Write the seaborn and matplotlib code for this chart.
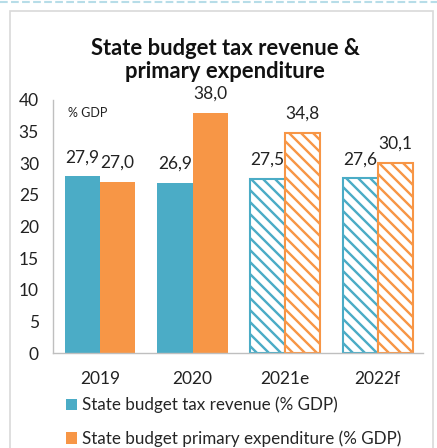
import matplotlib
matplotlib.use("Agg")
import matplotlib.pyplot as plt
import matplotlib.patches as mpatches
import seaborn as sns
import pandas as pd

years = ["2019", "2020", "2021e", "2022f"]
tax_revenue = [27.9, 26.9, 27.5, 27.6]
primary_expenditure = [27.0, 38.0, 34.8, 30.1]
series_names = ["State budget tax revenue (% GDP)",
                "State budget primary expenditure (% GDP)"]
forecast_years = ["2021e", "2022f"]
colors = ["#4BACC6", "#F79646"]

DPI = 72
k = 100 / DPI  # keep pixel sizes as designed at 100 dpi

sns.set_theme(style="white")
plt.rcParams['font.family'] = ['Lato', 'DejaVu Sans']
plt.rcParams['hatch.linewidth'] = 2.4

df = pd.DataFrame({
    "year": years * 2,
    "value": tax_revenue + primary_expenditure,
    "series": [series_names[0]] * len(years) + [series_names[1]] * len(years),
})

fig = plt.figure(figsize=(437 / DPI, 448 / DPI), dpi=DPI)
ax = fig.add_axes([0.121, 0.212, 0.847, 0.565])

sns.barplot(data=df, x="year", y="value", hue="series", palette=colors,
            width=0.76, saturation=1, ax=ax, legend=False, errorbar=None)

for ci, cont in enumerate(ax.containers):
    col = colors[ci]
    for yi, patch in enumerate(cont.patches):
        patch.set_linewidth(0)
        if years[yi] in forecast_years:
            patch.set_facecolor("white")
            patch.set_edgecolor(col)
            patch.set_hatch("\\" * 2)
            patch.set_linewidth(1.5 * k)
    vals = tax_revenue if ci == 0 else primary_expenditure
    labels = [f"{v:.1f}".replace(".", ",") for v in vals]
    ax.bar_label(cont, labels=labels, padding=8 * k, fontsize=12.5 * k,
                 color="#222222")

ax.set_ylim(0, 40)
ax.set_xlim(-0.51, 3.49)
ax.set_yticks(range(0, 41, 5))
ax.set_xlabel("")
ax.set_ylabel("")
ax.tick_params(axis="y", length=0, pad=10 * k, labelsize=12.5 * k, labelcolor="#222222")
ax.tick_params(axis="x", length=0, pad=13 * k, labelsize=12.5 * k, labelcolor="#222222")
for s in ["top", "right"]:
    ax.spines[s].set_visible(False)
ax.spines["left"].set_color("#bfbfbf")
ax.spines["bottom"].set_color("#bfbfbf")
ax.spines["left"].set_linewidth(1 * k)
ax.spines["bottom"].set_linewidth(1 * k)

ax.text(0.04, 0.95, "% GDP", transform=ax.transAxes, fontsize=9 * k,
        va="center", ha="left", color="#222222")

fig.text(0.515, 0.866, "State budget tax revenue &\nprimary expenditure",
         ha="center", va="center", fontsize=15.8 * k, fontweight="bold",
         linespacing=1.15, color="#111111")

handles = [mpatches.Patch(facecolor=c, edgecolor="none") for c in colors]
fig.legend(handles, series_names, loc="upper left",
           bbox_to_anchor=(0.15, 0.114), frameon=False, fontsize=12.2 * k,
           handlelength=0.7, handleheight=0.7, handletextpad=0.3,
           labelspacing=1.0, borderaxespad=0, borderpad=0)

fig.patches.append(mpatches.Rectangle((0.022, -0.01), 0.968, 0.985,
                                      transform=fig.transFigure, fill=False,
                                      edgecolor="#d9d9d9", linewidth=1.2 * k))
fig.lines.append(plt.Line2D([0, 1], [0.995, 0.995], transform=fig.transFigure,
                            color="#b7dde8", linewidth=1.5 * k, linestyle="--"))

fig.savefig("out.png", dpi=DPI, facecolor="white")
